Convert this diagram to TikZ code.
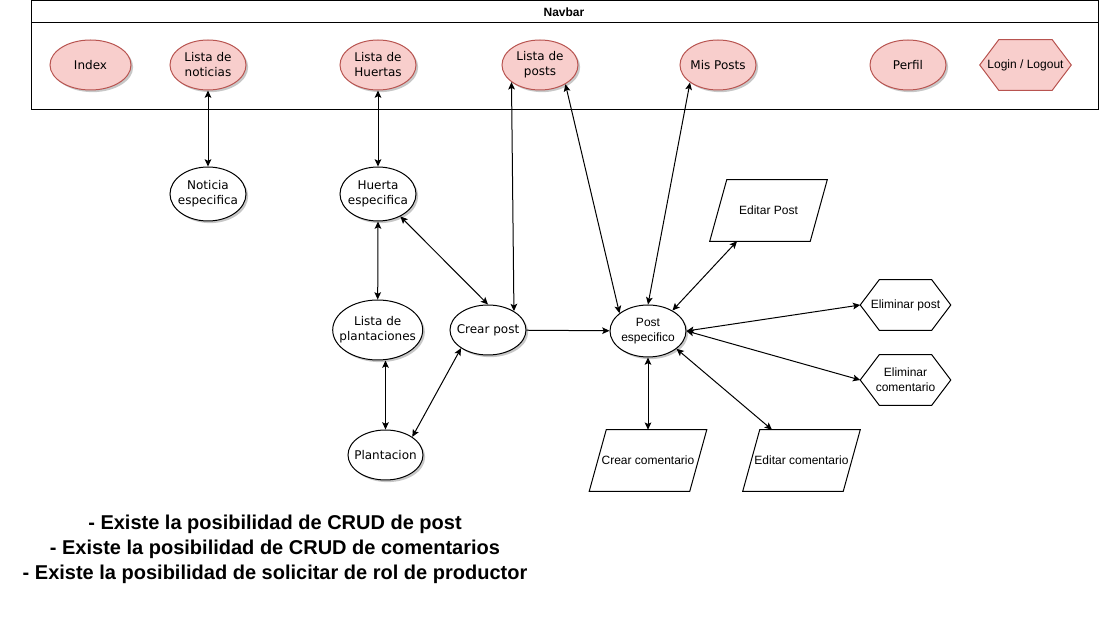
\documentclass[tikz,border=0pt]{standalone}
\usepackage{fontspec}
\usetikzlibrary{shapes.geometric,arrows.meta,shadows,calc}
\newfontfamily\dvfam{DejaVu Sans}
\newfontfamily\lbfam{Liberation Sans}
\newcommand\dvtext{\dvfam\fontsize{9pt}{11.25pt}\selectfont}
\newcommand\lbtext{\lbfam\fontsize{9pt}{11.25pt}\selectfont}
\definecolor{navfill}{HTML}{F8CECC}
\definecolor{navstroke}{HTML}{B85450}
\tikzset{
  softshadow/.style={drop shadow={shadow xshift=1.6pt,shadow yshift=-1.6pt,fill=black,opacity=0.22}},
  navell/.style={ellipse,draw=navstroke,fill=navfill,line width=0.75pt,minimum width=57pt,minimum height=37.5pt,inner xsep=-20pt,inner ysep=-12pt,align=center,font=\dvtext,softshadow},
  whell/.style={ellipse,draw=black,fill=white,line width=0.75pt,minimum width=57pt,minimum height=37.5pt,inner xsep=-20pt,inner ysep=-12pt,align=center,font=\dvtext,softshadow},
  hexbox/.style={rectangle,minimum width=67.5pt,minimum height=37.5pt,inner sep=0pt,align=center,font=\lbtext},
  parabox/.style={rectangle,minimum width=75pt,minimum height=45.75pt,inner sep=0pt,align=center,font=\lbtext},
  shapeline/.style={line width=0.75pt,draw=black},
  conn/.style={line width=0.75pt,draw=black,{Stealth[length=5.5pt,width=5pt,inset=1.2pt]}-{Stealth[length=5.5pt,width=5pt,inset=1.2pt]}},
  oneway/.style={line width=0.75pt,draw=black,-{Stealth[length=5.5pt,width=5pt,inset=1.2pt]}}
}
\begin{document}
\begin{tikzpicture}[x=0.75pt,y=-0.75pt]
\useasboundingbox (0,0) rectangle (1101,641);
% Navbar container
\coordinate (navtl) at (31,1);
\coordinate (navbr) at (1098,110);
\coordinate (navml) at (31,23);
\coordinate (navmr) at (1098,23);
\draw[line width=0.75pt] (navtl) rectangle (navbr);
\draw[line width=0.75pt] (navml) -- (navmr);
\node[font=\lbfam\bfseries\fontsize{9pt}{10.8pt}\selectfont] (navtitle) at (564,12) {Navbar};
% Navbar items
\node[navell,minimum width=60.75pt] (index) at (90.5,65) {Index};
\node[navell] (lnot) at (208,65) {Lista de\\noticias};
\node[navell] (lhue) at (378,65) {Lista de\\Huertas};
\node[navell] (lpos) at (540,65) {Lista de\\posts};
\node[navell] (mpos) at (718,65) {Mis Posts};
\node[navell] (perf) at (908,65) {Perfil};
\node[hexbox,minimum width=68.25pt] (login) at (1025.5,65) {};
\draw[line width=0.75pt,draw=navstroke,fill=navfill] (login.west) -- ($(login.north west)+(19,0)$) -- ($(login.north east)+(-19,0)$) -- (login.east) -- ($(login.south east)+(-19,0)$) -- ($(login.south west)+(19,0)$) -- cycle;
\node[hexbox,minimum width=68.25pt] (logintext) at (login) {Login / Logout};
% Other ellipses
\node[whell,minimum height=40.5pt] (nesp) at (208,194) {Noticia\\especifica};
\node[whell,minimum height=40.5pt] (hesp) at (378,194) {Huerta\\especifica};
\node[whell,minimum width=67.5pt,minimum height=45pt] (lpla) at (377.7,330) {Lista de\\plantaciones};
\node[whell] (cpost) at (488,330) {Crear post};
\node[whell,minimum width=56.25pt] (plan) at (385.5,455) {Plantacion};
\node[whell,minimum height=39pt,font=\lbtext] (pesp) at (648,331) {Post\\especifico};
% Parallelograms
\node[parabox] (epost) at (768.5,210.5) {Editar Post};
\draw[shapeline] ($(epost.north west)+(8.5,0)$) -- ($(epost.north east)+(8.5,0)$) -- ($(epost.south east)+(-8.5,0)$) -- ($(epost.south west)+(-8.5,0)$) -- cycle;
\node[parabox] (ccom) at (648,460.5) {Crear comentario};
\draw[shapeline] ($(ccom.north west)+(8.5,0)$) -- ($(ccom.north east)+(8.5,0)$) -- ($(ccom.south east)+(-8.5,0)$) -- ($(ccom.south west)+(-8.5,0)$) -- cycle;
\node[parabox] (ecom) at (801.5,460.5) {Editar comentario};
\draw[shapeline] ($(ecom.north west)+(8.5,0)$) -- ($(ecom.north east)+(8.5,0)$) -- ($(ecom.south east)+(-8.5,0)$) -- ($(ecom.south west)+(-8.5,0)$) -- cycle;
% Hexagons
\node[hexbox] (elpo) at (905.5,305) {Eliminar post};
\draw[shapeline] (elpo.west) -- ($(elpo.north west)+(19,0)$) -- ($(elpo.north east)+(-19,0)$) -- (elpo.east) -- ($(elpo.south east)+(-19,0)$) -- ($(elpo.south west)+(19,0)$) -- cycle;
\node[hexbox] (elco) at (905.5,380) {Eliminar\\comentario};
\draw[shapeline] (elco.west) -- ($(elco.north west)+(19,0)$) -- ($(elco.north east)+(-19,0)$) -- (elco.east) -- ($(elco.south east)+(-19,0)$) -- ($(elco.south west)+(19,0)$) -- cycle;
% Connectors
\draw[conn] (lnot.south) -- (nesp.north);
\draw[conn] (lhue.south) -- (hesp.north);
\draw[conn] (hesp.south) -- (lpla.north);
\draw[conn] (plan.north |- lpla.south) -- (plan.north);
\draw[conn] (hesp) -- (cpost.north);
\draw[conn] (plan.34) -- (cpost.214);
\draw[conn] (lpos.211) -- (cpost.36);
\draw[oneway] (cpost) -- (pesp);
\draw[conn] (lpos.323) -- (pesp.148);
\draw[conn] (mpos.212) -- (pesp.north);
\draw[conn] (pesp.40) -- ($(epost.south)+(-31.5,0)$);
\draw[conn] (pesp.east) -- (elpo.west);
\draw[conn] (pesp.east) -- (elco.west);
\draw[conn] (pesp.south) -- (ccom.north);
\draw[conn] (pesp.328) -- ($(ecom.north)+(-29.5,0)$);
% Notes
\node[font=\lbfam\bfseries\fontsize{15pt}{18.6pt}\selectfont,align=center] (notes) at (275,549.5) {- Existe la posibilidad de CRUD de post\\- Existe la posibilidad de CRUD de comentarios\\- Existe la posibilidad de solicitar de rol de productor};
\end{tikzpicture}
\end{document}
